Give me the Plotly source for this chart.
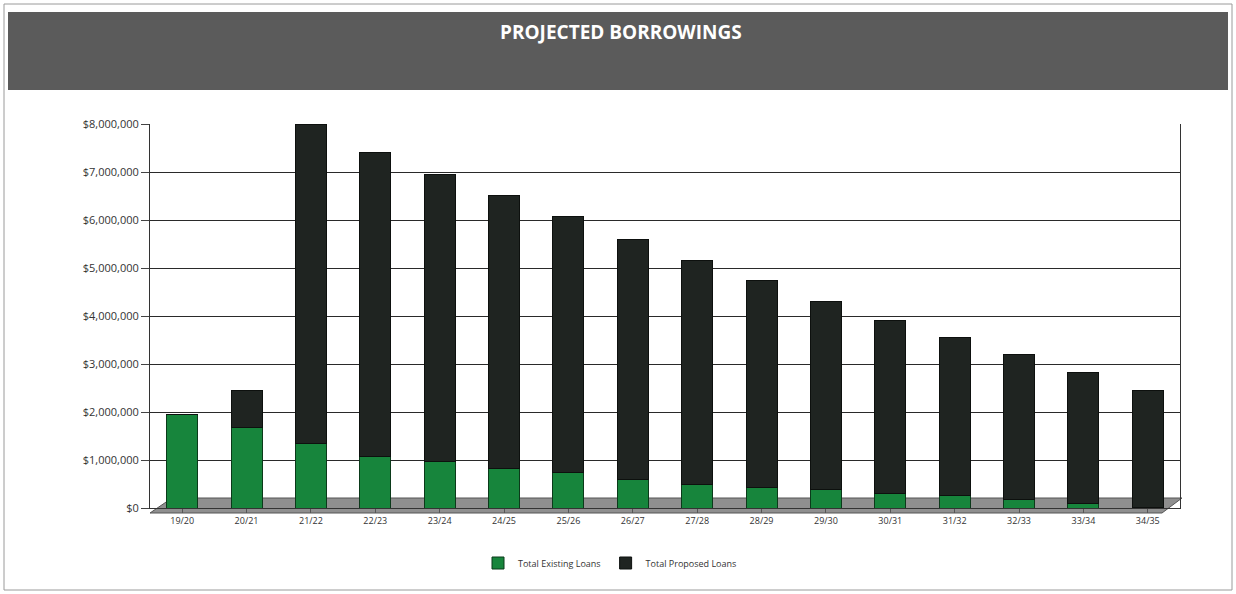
import plotly.graph_objects as go

years = ["19/20", "20/21", "21/22", "22/23", "23/24", "24/25", "25/26", "26/27",
         "27/28", "28/29", "29/30", "30/31", "31/32", "32/33", "33/34", "34/35"]
existing = [1940000, 1670000, 1350000, 1080000, 960000, 830000, 730000, 600000,
            500000, 420000, 380000, 310000, 260000, 170000, 100000, 20000]
totals = [1950000, 2440000, 7980000, 7400000, 6940000, 6520000, 6080000, 5600000,
          5150000, 4730000, 4310000, 3900000, 3560000, 3200000, 2830000, 2440000]
proposed = [max(t - e, 0) for t, e in zip(totals, existing)]
yticks = [0, 1000000, 2000000, 3000000, 4000000, 5000000, 6000000, 7000000, 8000000]
ytext = ["$0", "$1,000,000", "$2,000,000", "$3,000,000", "$4,000,000",
         "$5,000,000", "$6,000,000", "$7,000,000", "$8,000,000"]

W, H = 1236, 594
ML, MR, MT, MB = 150, 56, 124, 86
PW = W - ML - MR
PH = H - MT - MB


def px(x):
    return (x - ML) / PW


def py(y):
    return (H - MB - y) / PH


fig = go.Figure()
fig.add_trace(go.Bar(x=years, y=existing, name="Total Existing Loans",
                     marker=dict(color="#17853c", line=dict(color="#0b3a1a", width=1))))
fig.add_trace(go.Bar(x=years, y=proposed, name="Total Proposed Loans",
                     marker=dict(color="#1f2421", line=dict(color="#0d100e", width=1))))

shapes = [
    # outer border
    dict(type="rect", xref="paper", yref="paper", x0=px(4), x1=px(1232), y0=py(590), y1=py(4),
         line=dict(color="#9a9a9a", width=1), fillcolor="rgba(0,0,0,0)", layer="below"),
    # title banner
    dict(type="rect", xref="paper", yref="paper", x0=px(8), x1=px(1228), y0=py(90), y1=py(12),
         line=dict(width=0), fillcolor="#5b5b5b", layer="below"),
    # floor
    dict(type="path", xref="paper", yref="paper",
         path=f"M {px(150)},{py(513)} L {px(172)},{py(498)} L {px(1182)},{py(498)} L {px(1162)},{py(513)} Z",
         line=dict(color="#555555", width=1), fillcolor="#8f8f8f", layer="below"),
]

fig.update_layout(
    width=W, height=H,
    margin=dict(l=ML, r=MR, t=MT, b=MB),
    paper_bgcolor="white", plot_bgcolor="white",
    barmode="stack", bargap=0.52,
    font=dict(family="Open Sans", color="#333333"),
    shapes=shapes,
    annotations=[dict(text="<b>PROJECTED BORROWINGS</b>", xref="paper", yref="paper",
                      x=px(621), y=py(32), xanchor="center", yanchor="middle", showarrow=False,
                      font=dict(color="white", size=19, family="Open Sans"))],
    legend=dict(orientation="h", x=px(610), xanchor="center", y=py(563), yanchor="middle",
                font=dict(size=9, color="#333333"), itemwidth=30, traceorder="normal"),
    xaxis=dict(showline=True, linecolor="#333333", linewidth=1, tickfont=dict(size=9),
               ticks="outside", ticklen=4, tickcolor="#555555", showgrid=False),
    yaxis=dict(range=[0, 8000000], tickvals=yticks, ticktext=ytext, tickfont=dict(size=11),
               showgrid=True, gridcolor="#2a2a2a", gridwidth=1, showline=True, mirror=True,
               linecolor="#333333", ticks="outside", ticklen=8, tickcolor="#444444", zeroline=False),
)

fig.write_html("out.html")
